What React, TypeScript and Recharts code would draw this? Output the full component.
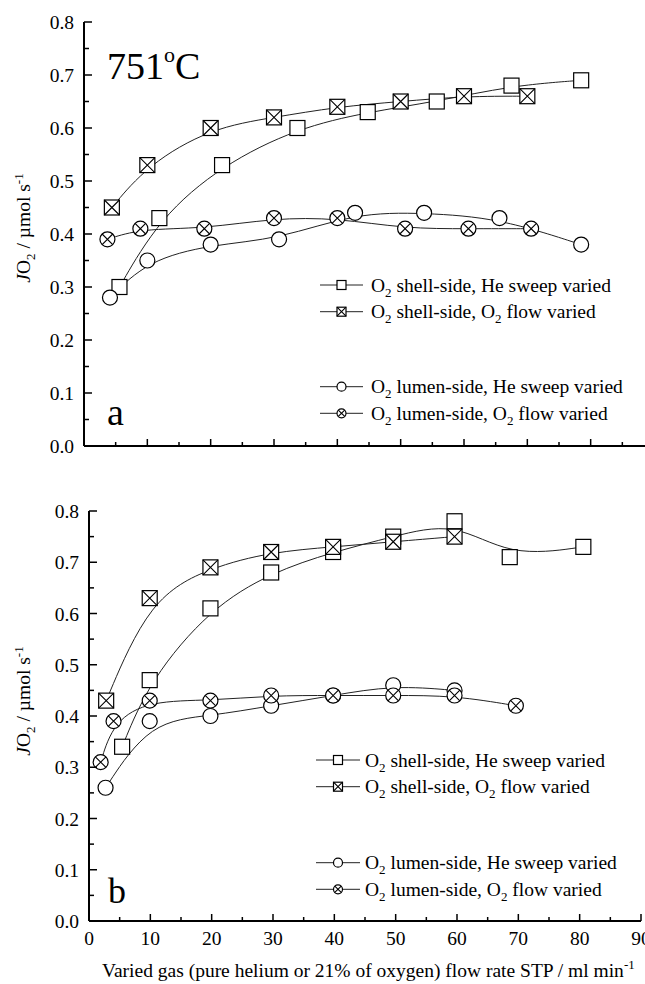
import React from "react";
import { LineChart, Line, XAxis, YAxis } from "recharts";

// panel a (751 C), flow rate in ml/min vs JO2 in umol/s
const aShellHeX = [5.6, 11.9, 21.8, 33.7, 44.8, 55.7, 67.5, 78.5];
const aShellHeY = [0.3, 0.43, 0.53, 0.6, 0.63, 0.65, 0.68, 0.69];
const aShellO2X = [4.4, 10, 20, 30, 40, 50, 60, 70];
const aShellO2Y = [0.45, 0.53, 0.6, 0.62, 0.64, 0.65, 0.66, 0.66];
const aLumenHeX = [4.1, 10, 20, 30.8, 42.8, 53.7, 65.6, 78.5];
const aLumenHeY = [0.28, 0.35, 0.38, 0.39, 0.44, 0.44, 0.43, 0.38];
const aLumenO2X = [3.7, 8.9, 19, 30, 40, 50.7, 60.7, 70.6];
const aLumenO2Y = [0.39, 0.41, 0.41, 0.43, 0.43, 0.41, 0.41, 0.41];

// panel b
const bShellHeX = [5.4, 9.9, 19.8, 29.7, 39.8, 49.6, 59.6, 68.6, 80.6];
const bShellHeY = [0.34, 0.47, 0.61, 0.68, 0.72, 0.75, 0.78, 0.71, 0.73];
const bShellO2X = [2.8, 9.9, 19.8, 29.7, 39.8, 49.6, 59.6];
const bShellO2Y = [0.43, 0.63, 0.69, 0.72, 0.73, 0.74, 0.75];
const bLumenHeX = [2.7, 9.9, 19.8, 29.7, 39.8, 49.6, 59.6];
const bLumenHeY = [0.26, 0.39, 0.4, 0.42, 0.44, 0.46, 0.45];
const bLumenO2X = [1.9, 4.0, 9.9, 19.8, 29.7, 39.8, 49.6, 59.6, 69.6];
const bLumenO2Y = [0.31, 0.39, 0.43, 0.43, 0.44, 0.44, 0.44, 0.44, 0.42];

const xTicks = [0, 5, 10, 15, 20, 25, 30, 35, 40, 45, 50, 55, 60, 65, 70, 75, 80, 85, 90];
const yTicks = [0, 0.05, 0.1, 0.15, 0.2, 0.25, 0.3, 0.35, 0.4, 0.45, 0.5, 0.55, 0.6, 0.65, 0.7, 0.75, 0.8];

// even parts normal, odd parts subscript
const legendLabels = [
  ["O", "2", " shell-side, He sweep varied"],
  ["O", "2", " shell-side, O", "2", " flow varied"],
  ["O", "2", " lumen-side, He sweep varied"],
  ["O", "2", " lumen-side, O", "2", " flow varied"],
];
const markKinds = ["square", "squareX", "circle", "circleX"];

const FONT = "'Liberation Serif', 'Times New Roman', serif";
const FS = 19.5;
const SUB = 13;
const GAP = 10;

const zip = (xs: number[], ys: number[]) => xs.map((x, i) => ({ x, y: ys[i] }));

function Mark({ kind, cx, cy, s = 7.5 }: { kind: string; cx: number; cy: number; s?: number }) {
  const st = { stroke: "#000", strokeWidth: 1.2, fill: "#fff" };
  if (kind === "square" || kind === "squareX") {
    return (
      <g>
        <rect x={cx - s} y={cy - s} width={2 * s} height={2 * s} {...st} />
        {kind === "squareX" && (
          <path d={`M${cx - s},${cy - s}L${cx + s},${cy + s}M${cx + s},${cy - s}L${cx - s},${cy + s}`} stroke="#000" strokeWidth={1.1} />
        )}
      </g>
    );
  }
  const d = s * 0.707;
  return (
    <g>
      <circle cx={cx} cy={cy} r={s} {...st} />
      {kind === "circleX" && (
        <path d={`M${cx - d},${cy - d}L${cx + d},${cy + d}M${cx + d},${cy - d}L${cx - d},${cy + d}`} stroke="#000" strokeWidth={1.1} />
      )}
    </g>
  );
}

const dotFor = (kind: string) => (p: any) => (
  <Mark key={`${kind}-${p.index}`} kind={kind} cx={p.cx} cy={p.cy} />
);

function XTick(props: any) {
  const { x, y, payload, labels } = props;
  const major = payload.value % 10 === 0;
  const axisY = y - GAP;
  return (
    <g>
      <line x1={x} x2={x} y1={axisY} y2={axisY - (major ? 7 : 4)} stroke="#000" strokeWidth={1.5} />
      {labels && major && (
        <text x={x} y={y + 14} textAnchor="middle" fontFamily={FONT} fontSize={FS} fill="#000">
          {payload.value}
        </text>
      )}
    </g>
  );
}

function YTick(props: any) {
  const { x, y, payload } = props;
  const v = payload.value;
  const major = Math.round(v * 100) % 10 === 0;
  const axisX = x + GAP;
  return (
    <g>
      <line x1={axisX} x2={axisX + (major ? 8 : 5)} y1={y} y2={y} stroke="#000" strokeWidth={1.5} />
      {major && (
        <text x={x} y={y} dy="0.36em" textAnchor="end" fontFamily={FONT} fontSize={FS} fill="#000">
          {v.toFixed(1)}
        </text>
      )}
    </g>
  );
}

const axisLine = { stroke: "#000", strokeWidth: 2 };

function Panel({ width, height, margin, yWidth, labels, series }: any) {
  return (
    <LineChart width={width} height={height} margin={margin}>
      <XAxis
        dataKey="x"
        type="number"
        domain={[0, 90]}
        ticks={xTicks}
        interval={0}
        tickSize={0}
        tickMargin={GAP}
        tickLine={false}
        axisLine={axisLine}
        height={30}
        tick={(p: any) => <XTick {...p} labels={labels} />}
      />
      <XAxis xAxisId="top" orientation="top" type="number" domain={[0, 90]} tick={false} tickLine={false} height={0} axisLine={axisLine} />
      <YAxis
        type="number"
        domain={[0, 0.8]}
        ticks={yTicks}
        interval={0}
        tickSize={0}
        tickMargin={GAP}
        tickLine={false}
        axisLine={axisLine}
        width={yWidth}
        tick={(p: any) => <YTick {...p} />}
      />
      <YAxis yAxisId="right" orientation="right" type="number" domain={[0, 0.8]} tick={false} tickLine={false} width={0} axisLine={axisLine} />
      {series.map((data: any, i: number) => (
        <Line
          key={i}
          data={data}
          dataKey="y"
          type="basis"
          stroke="#222"
          strokeWidth={1}
          dot={dotFor(markKinds[i])}
          isAnimationActive={false}
        />
      ))}
    </LineChart>
  );
}

function LegendBlock({ x0, x1, tx, rows }: { x0: number; x1: number; tx: number; rows: number[] }) {
  return (
    <g>
      {rows.map((ry, i) => (
        <g key={i}>
          <line x1={x0} x2={x1} y1={ry} y2={ry} stroke="#222" strokeWidth={1} />
          <Mark kind={markKinds[i]} cx={(x0 + x1) / 2} cy={ry} s={4.5} />
          <text x={tx} y={ry + 6.5} fontFamily={FONT} fontSize={FS} fill="#000" style={{ whiteSpace: "pre" }}>
            {legendLabels[i].map((t, j) =>
              j % 2 === 1 ? (
                <tspan key={j} fontSize={SUB} dy={5}>{t}</tspan>
              ) : (
                <tspan key={j} dy={j === 0 ? 0 : -5}>{t}</tspan>
              )
            )}
          </text>
        </g>
      ))}
    </g>
  );
}

function YTitle({ x, y }: { x: number; y: number }) {
  return (
    <text x={x} y={y} transform={`rotate(-90 ${x} ${y})`} textAnchor="middle" fontFamily={FONT} fontSize={FS} fill="#000" style={{ whiteSpace: "pre" }}>
      <tspan fontStyle="italic">J</tspan>
      <tspan>O</tspan>
      <tspan fontSize={SUB} dy={5}>2</tspan>
      <tspan dy={-5}> / µmol s</tspan>
      <tspan fontSize={SUB} dy={-7}>-1</tspan>
    </text>
  );
}

export default function App() {
  const seriesA = [zip(aShellHeX, aShellHeY), zip(aShellO2X, aShellO2Y), zip(aLumenHeX, aLumenHeY), zip(aLumenO2X, aLumenO2Y)];
  const seriesB = [zip(bShellHeX, bShellHeY), zip(bShellO2X, bShellO2Y), zip(bLumenHeX, bLumenHeY), zip(bLumenO2X, bLumenO2Y)];
  return (
    <div style={{ position: "absolute", left: 0, top: 0, width: 645, height: 984, overflow: "hidden", background: "#fff" }}>
      <div style={{ position: "absolute", left: 0, top: 0 }}>
        <Panel width={710} height={476} margin={{ top: 22, right: 56, left: 0, bottom: 0 }} yWidth={84} labels={false} series={seriesA} />
      </div>
      <div style={{ position: "absolute", left: 0, top: 480 }}>
        <Panel width={645} height={471} margin={{ top: 31, right: 4, left: 0, bottom: 0 }} yWidth={89} labels={true} series={seriesB} />
      </div>
      <svg width={645} height={984} style={{ position: "absolute", left: 0, top: 0, pointerEvents: "none" }}>
        <text x={107} y={79} fontFamily={FONT} fontSize={38} fill="#000">
          <tspan>751</tspan>
          <tspan fontSize={22} dy={-17}>o</tspan>
          <tspan dy={17}>C</tspan>
        </text>
        <text x={107} y={425} fontFamily={FONT} fontSize={38} fill="#000">a</text>
        <text x={108} y={903} fontFamily={FONT} fontSize={36} fill="#000">b</text>
        <YTitle x={30} y={228} />
        <YTitle x={30} y={701} />
        <LegendBlock x0={320} x1={363} tx={371} rows={[285, 311.7, 386.7, 413.3]} />
        <LegendBlock x0={316} x1={360} tx={365} rows={[760, 786.7, 862.7, 889.3]} />
        <text x={102} y={977} fontFamily={FONT} fontSize={FS} fill="#000" style={{ whiteSpace: "pre" }}>
          <tspan>Varied gas (pure helium or 21% of oxygen) flow rate STP / ml min</tspan>
          <tspan fontSize={SUB} dy={-8}>-1</tspan>
        </text>
      </svg>
    </div>
  );
}
